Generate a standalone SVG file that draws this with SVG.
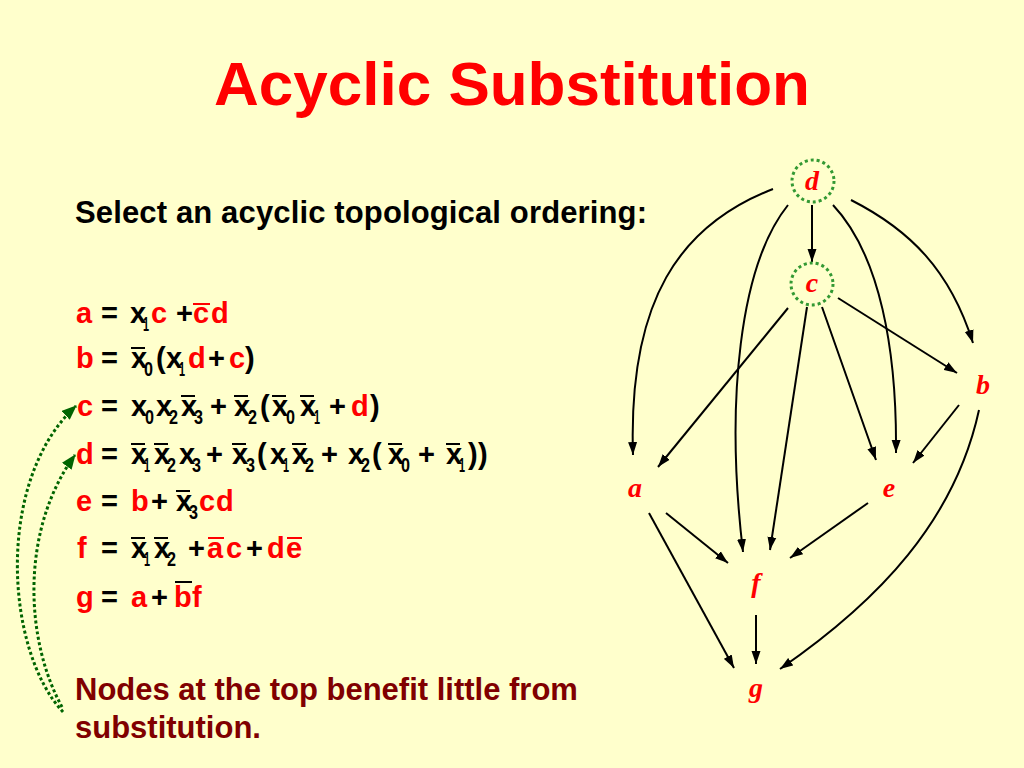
<svg xmlns="http://www.w3.org/2000/svg" width="1024" height="768" viewBox="0 0 1024 768">
<style>
text{font-family:"Liberation Sans",Arial,sans-serif;font-weight:bold}
.title{font-size:62px;fill:#FF0000}
.body{font-size:31px;fill:#000}
.note{font-size:31px;fill:#800000}
.eq text{font-size:29px}
.k{fill:#000}
.r{fill:#FF0000}
.eq text.s{font-size:20px}
.bar{stroke:#000;stroke-width:2}
.rbar{stroke:#FF0000;stroke-width:2}
.edge{fill:none;stroke:#000;stroke-width:2;marker-end:url(#ah)}
.loop{fill:none;stroke:#006400;stroke-width:3;stroke-dasharray:3 2.5;marker-end:url(#gh)}
.ring{fill:none;stroke:#339933;stroke-width:3;stroke-dasharray:3 3}
.lbl{font-family:"Liberation Serif","Times New Roman",serif;font-style:italic;font-weight:bold;font-size:28px;fill:#FF0000}
</style>
<defs>
<marker id="ah" markerUnits="userSpaceOnUse" markerWidth="14" markerHeight="10" refX="13" refY="5" orient="auto"><path d="M0,0.5 L13,5 L0,9.5 z" fill="#000"/></marker>
<marker id="gh" markerUnits="userSpaceOnUse" markerWidth="16" markerHeight="12" refX="14" refY="6" orient="auto"><path d="M0,0 L15,6 L0,12 z" fill="#006400"/></marker>
</defs>
<rect width="1024" height="768" fill="#FFFFCC"/>
<text class="title" x="512" y="105" text-anchor="middle">Acyclic Substitution</text>
<text class="body" x="75" y="223" textLength="572" lengthAdjust="spacing">Select an acyclic topological ordering:</text>
<g class="eq">
<g id="eq-a">
<text class="r" x="76" y="323">a</text><text class="k" x="101" y="323">=</text><text class="k" x="130" y="323">x</text><text class="k s" x="143" y="331" textLength="6" lengthAdjust="spacingAndGlyphs">1</text><text class="r" x="151" y="323">c</text><text class="k" x="176" y="323">+</text><text class="r" x="193" y="323">c</text><text class="r" x="211" y="323">d</text>
<line class="rbar" x1="193" y1="304" x2="210" y2="304"/>
</g>
<g id="eq-b">
<text class="r" x="76" y="368">b</text><text class="k" x="101" y="368">=</text><text class="k" x="131" y="368">x</text><text class="k s" x="144" y="376" textLength="9" lengthAdjust="spacingAndGlyphs">0</text><text class="k" x="156" y="368">(</text><text class="k" x="166" y="368">x</text><text class="k s" x="179" y="376" textLength="6" lengthAdjust="spacingAndGlyphs">1</text><text class="r" x="188" y="368">d</text><text class="k" x="208" y="368">+</text><text class="r" x="229" y="368">c</text><text class="k" x="245" y="368">)</text>
<line class="bar" x1="131" y1="348" x2="145" y2="348"/>
</g>
<g id="eq-c">
<text class="r" x="77" y="416">c</text><text class="k" x="101" y="416">=</text><text class="k" x="131" y="416">x</text><text class="k s" x="145" y="424" textLength="9" lengthAdjust="spacingAndGlyphs">0</text><text class="k" x="156" y="416">x</text><text class="k s" x="169" y="424" textLength="9" lengthAdjust="spacingAndGlyphs">2</text><text class="k" x="181" y="416">x</text><text class="k s" x="194" y="424" textLength="9" lengthAdjust="spacingAndGlyphs">3</text><text class="k" x="210" y="416">+</text><text class="k" x="234" y="416">x</text><text class="k s" x="248" y="424" textLength="9" lengthAdjust="spacingAndGlyphs">2</text><text class="k" x="260" y="416">(</text><text class="k" x="272" y="416">x</text><text class="k s" x="286" y="424" textLength="9" lengthAdjust="spacingAndGlyphs">0</text><text class="k" x="300" y="416">x</text><text class="k s" x="314" y="424" textLength="6" lengthAdjust="spacingAndGlyphs">1</text><text class="k" x="329" y="416">+</text><text class="r" x="351" y="416">d</text><text class="k" x="370" y="416">)</text>
<line class="bar" x1="181" y1="396" x2="195" y2="396"/><line class="bar" x1="234" y1="396" x2="248" y2="396"/><line class="bar" x1="272" y1="396" x2="286" y2="396"/><line class="bar" x1="300" y1="396" x2="314" y2="396"/>
</g>
<g id="eq-d">
<text class="r" x="76" y="464">d</text><text class="k" x="101" y="464">=</text><text class="k" x="131" y="464">x</text><text class="k s" x="144" y="472" textLength="6" lengthAdjust="spacingAndGlyphs">1</text><text class="k" x="154" y="464">x</text><text class="k s" x="167" y="472" textLength="9" lengthAdjust="spacingAndGlyphs">2</text><text class="k" x="179" y="464">x</text><text class="k s" x="192" y="472" textLength="9" lengthAdjust="spacingAndGlyphs">3</text><text class="k" x="206" y="464">+</text><text class="k" x="232" y="464">x</text><text class="k s" x="246" y="472" textLength="9" lengthAdjust="spacingAndGlyphs">3</text><text class="k" x="257" y="464">(</text><text class="k" x="270" y="464">x</text><text class="k s" x="283" y="472" textLength="6" lengthAdjust="spacingAndGlyphs">1</text><text class="k" x="292" y="464">x</text><text class="k s" x="305" y="472" textLength="9" lengthAdjust="spacingAndGlyphs">2</text><text class="k" x="321" y="464">+</text><text class="k" x="348" y="464">x</text><text class="k s" x="361" y="472" textLength="9" lengthAdjust="spacingAndGlyphs">2</text><text class="k" x="372" y="464">(</text><text class="k" x="388" y="464">x</text><text class="k s" x="401" y="472" textLength="9" lengthAdjust="spacingAndGlyphs">0</text><text class="k" x="418" y="464">+</text><text class="k" x="446" y="464">x</text><text class="k s" x="459" y="472" textLength="6" lengthAdjust="spacingAndGlyphs">1</text><text class="k" x="468" y="464">)</text><text class="k" x="478" y="464">)</text>
<line class="bar" x1="131" y1="444" x2="145" y2="444"/><line class="bar" x1="154" y1="444" x2="168" y2="444"/><line class="bar" x1="232" y1="444" x2="246" y2="444"/><line class="bar" x1="292" y1="444" x2="306" y2="444"/><line class="bar" x1="388" y1="444" x2="402" y2="444"/><line class="bar" x1="446" y1="444" x2="460" y2="444"/>
</g>
<g id="eq-e">
<text class="r" x="76" y="511">e</text><text class="k" x="101" y="511">=</text><text class="r" x="131" y="511">b</text><text class="k" x="151" y="511">+</text><text class="k" x="176" y="511">x</text><text class="k s" x="189" y="519" textLength="9" lengthAdjust="spacingAndGlyphs">3</text><text class="r" x="199" y="511">c</text><text class="r" x="216" y="511">d</text>
<line class="bar" x1="176" y1="491" x2="190" y2="491"/>
</g>
<g id="eq-f">
<text class="r" x="77" y="558">f</text><text class="k" x="101" y="558">=</text><text class="k" x="131" y="558">x</text><text class="k s" x="144" y="566" textLength="6" lengthAdjust="spacingAndGlyphs">1</text><text class="k" x="154" y="558">x</text><text class="k s" x="167" y="566" textLength="9" lengthAdjust="spacingAndGlyphs">2</text><text class="k" x="188" y="558">+</text><text class="r" x="207" y="558">a</text><text class="r" x="226" y="558">c</text><text class="k" x="246" y="558">+</text><text class="r" x="267" y="558">d</text><text class="r" x="286" y="558">e</text>
<line class="bar" x1="131" y1="538" x2="145" y2="538"/><line class="bar" x1="154" y1="538" x2="168" y2="538"/><line class="rbar" x1="208" y1="538" x2="224" y2="538"/><line class="rbar" x1="287" y1="538" x2="302" y2="538"/>
</g>
<g id="eq-g">
<text class="r" x="76" y="607">g</text><text class="k" x="101" y="607">=</text><text class="r" x="131" y="607">a</text><text class="k" x="151" y="607">+</text><text class="r" x="174" y="607">b</text><text class="r" x="192" y="607">f</text>
<line class="bar" x1="175" y1="582" x2="192" y2="582"/>
</g>
</g>
<text class="note" x="75" y="700">Nodes at the top benefit little from</text>
<text class="note" x="75" y="738">substitution.</text>
<g id="connectors">
<path class="loop" d="M63,712 C 5,650 -5,480 76,406"/>
<path class="loop" d="M62,707 C 25,640 20,530 75,455"/>
<path class="edge" d="M812,205 L812,262"/>
<path class="edge" d="M773,189 C 680,225 628,300 633,455"/>
<path class="edge" d="M788,205 C 740,265 725,400 743,552"/>
<path class="edge" d="M833,205 C 880,255 897,350 896,453"/>
<path class="edge" d="M851,200 C 910,230 950,270 973,343"/>
<path class="edge" d="M788,308 L658,467"/>
<path class="edge" d="M807,307 L770,550"/>
<path class="edge" d="M822,307 L876,460"/>
<path class="edge" d="M838,298 L957,373"/>
<path class="edge" d="M959,405 L913,463"/>
<path class="edge" d="M979,410 C 955,520 880,600 780,669"/>
<path class="edge" d="M649,513 L734,668"/>
<path class="edge" d="M666,513 L728,563"/>
<path class="edge" d="M868,503 L790,558"/>
<path class="edge" d="M756,615 L756,664"/>
</g>
<g id="node-d"><circle class="ring" cx="813" cy="181" r="21"/><text class="lbl" x="812" y="190" text-anchor="middle">d</text></g>
<g id="node-c"><circle class="ring" cx="812" cy="284" r="21"/><text class="lbl" x="812" y="292" text-anchor="middle">c</text></g>
<g id="node-b"><text class="lbl" x="983" y="394" text-anchor="middle">b</text></g>
<g id="node-a"><text class="lbl" x="635" y="497" text-anchor="middle">a</text></g>
<g id="node-e"><text class="lbl" x="889" y="497" text-anchor="middle">e</text></g>
<g id="node-f"><text class="lbl" x="756" y="592" text-anchor="middle">f</text></g>
<g id="node-g"><text class="lbl" x="756" y="697" text-anchor="middle">g</text></g>
</svg>
